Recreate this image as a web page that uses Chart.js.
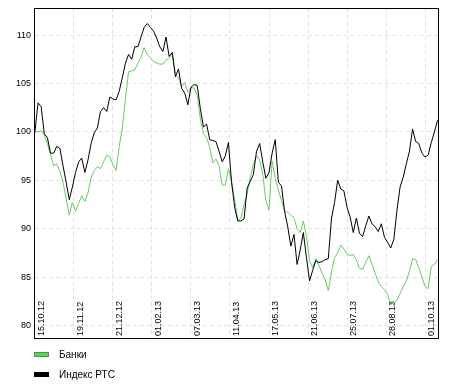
<!DOCTYPE html>
<html>
<head>
<meta charset="utf-8">
<script src="https://cdn.jsdelivr.net/npm/chart.js@4"></script>
<style>
  body { margin: 0; background: #fff; }
  #wrap { position: relative; width: 449px; height: 387px; }
  .lg { position: absolute; left: 34px; height: 12px; font: 10px "Liberation Sans", Arial, sans-serif; color: #000; line-height: 12px; }
  .lg .box { position: absolute; left: 0; top: 3px; width: 13px; height: 3px; }
  .lg .txt { position: absolute; left: 25px; top: 0; white-space: nowrap; }
</style>
</head>
<body>
<div id="wrap">
  <canvas id="c" width="449" height="387"></canvas>
  <div class="lg" style="top:349px"><span class="box" style="background:#66cc66;border:1px solid #3f9f3f"></span><span class="txt">Банки</span></div>
  <div class="lg" style="top:369px"><span class="box" style="background:#000;border:1px solid #000"></span><span class="txt">Индекс РТС</span></div>
</div>
<script>
// every value is one point per 2 trading days, starting 15.10.12
const DAY_STEP = 2;

const banks = [
  100.0, 100.0, 100.1, 99.7, 98.8, 97.6, 96.5, 96.7, 95.9, 94.8,
  93.1, 91.4, 92.7, 91.8, 92.6, 93.4, 92.8, 93.7, 95.3, 96.0,
  96.4, 96.2, 96.9, 97.6, 97.4, 96.6, 96.0, 98.5, 100.4, 103.4,
  106.2, 106.3, 106.4, 107.1, 107.7, 108.7, 108.0, 107.6, 107.3, 107.1,
  107.0, 107.0, 107.4, 107.6, 108.1, 106.0, 105.6, 104.7, 105.1, 104.1,
  104.6, 104.5, 103.8, 101.4, 99.8, 99.4, 98.4, 96.8, 97.2, 96.5,
  94.5, 94.5, 96.2, 94.9, 93.0, 90.8, 91.1, 92.5, 93.6, 95.3,
  96.7, 97.5, 97.1, 95.6, 92.9, 91.9, 97.0, 95.2, 94.0, 92.9,
  91.8, 91.7, 91.4, 91.1, 90.0, 89.6, 90.8, 89.2, 86.7, 86.0,
  86.9, 86.2, 85.4, 84.7, 83.6, 85.5, 87.0, 87.5, 88.3, 87.9,
  87.4, 87.2, 87.3, 86.8, 85.9, 85.8, 86.5, 87.2, 86.3, 85.4,
  84.5, 84.0, 83.7, 83.2, 82.2, 82.3, 82.6, 83.3, 84.0, 84.6,
  85.6, 86.9, 86.8, 86.0, 85.0, 84.0, 83.8, 86.1, 86.3, 86.8
];

const rts = [
  100.0, 103.0, 102.6, 99.8, 99.4, 97.8, 97.8, 98.5, 98.3, 96.5,
  94.8, 93.0, 94.3, 95.8, 96.9, 97.3, 95.8, 97.1, 98.8, 99.9,
  100.4, 102.1, 102.5, 102.1, 103.6, 103.4, 103.3, 104.2, 105.6, 107.1,
  108.0, 107.5, 108.8, 108.8, 109.8, 110.8, 111.2, 110.8, 110.4, 109.7,
  108.8, 108.3, 109.8, 107.8, 108.2, 105.7, 106.5, 104.5, 104.0, 102.8,
  104.6, 104.9, 104.8, 102.4, 100.5, 100.8, 99.2, 99.1, 99.0, 98.0,
  96.9, 97.5, 98.9, 94.8, 92.2, 90.8, 90.8, 91.0, 94.2, 94.9,
  95.6, 98.0, 98.8, 96.9, 95.2, 95.8, 97.8, 99.2, 94.8, 94.4,
  91.8, 90.2, 88.2, 89.4, 86.3, 87.8, 89.6, 87.0, 84.6, 85.7,
  86.7, 86.5, 86.6, 86.8, 86.9, 91.0, 92.7, 95.0, 94.1, 93.9,
  92.2, 91.2, 89.6, 91.1, 89.5, 89.2, 90.3, 91.3, 90.5, 90.2,
  89.7, 90.5, 89.1, 88.6, 88.0, 88.9, 91.9, 94.3, 95.3, 96.7,
  98.0, 100.3, 99.0, 98.8, 97.8, 97.4, 97.6, 98.9, 100.0, 101.2
];

// x ticks: trading day index -> date label
const tickDays = [0, 25, 50, 75, 100, 125, 150, 175, 200, 225, 250];
const tickLabels = ['15.10.12', '19.11.12', '21.12.12', '01.02.13', '07.03.13', '11.04.13',
                    '17.05.13', '21.06.13', '25.07.13', '28.08.13', '01.10.13'];
const yTicks = [80, 85, 90, 95, 100, 105, 110];

const FONT = '"Liberation Sans", Arial, sans-serif';
Chart.defaults.font.family = FONT;
Chart.defaults.font.size = 9;
Chart.defaults.color = '#000';

function pts(arr) { return arr.map((v, k) => ({ x: k * DAY_STEP, y: v })); }

// frame round the plot + date labels inside the plot
const framePlugin = {
  id: 'frame',
  beforeDatasetsDraw(chart) {
    const ctx = chart.ctx;
    const xs = chart.scales.x;
    const a = chart.chartArea;
    ctx.save();
    ctx.fillStyle = '#000';
    ctx.font = '9px ' + FONT;
    ctx.textAlign = 'left';
    ctx.textBaseline = 'middle';
    tickDays.forEach((d, i) => {
      const px = xs.getPixelForValue(d);
      ctx.save();
      ctx.translate(Math.round(px) + 6.5, a.bottom - 2);
      ctx.rotate(-Math.PI / 2);
      ctx.fillText(tickLabels[i], 0, 0);
      ctx.restore();
    });
    ctx.restore();
  },
  afterDraw(chart) {
    const ctx = chart.ctx;
    const a = chart.chartArea;
    ctx.save();
    ctx.strokeStyle = '#000';
    ctx.lineWidth = 1;
    ctx.strokeRect(Math.round(a.left) + 0.5, Math.round(a.top) + 0.5,
                   Math.round(a.right - a.left), Math.round(a.bottom - a.top));
    ctx.restore();
  }
};

const chart = new Chart(document.getElementById('c').getContext('2d'), {
  type: 'line',
  data: { datasets: [
    { label: 'Банки', data: pts(banks), borderColor: '#66cc66', borderWidth: 1, pointRadius: 0, tension: 0, order: 1 },
    { label: 'Индекс РТС', data: pts(rts), borderColor: '#000', borderWidth: 1, pointRadius: 0, tension: 0, order: 0 }
  ]},
  options: {
    responsive: false, animation: false, parsing: false,
    layout: { padding: { left: 0, top: 7, right: 11, bottom: 49 } },
    plugins: { legend: { display: false }, tooltip: { enabled: false } },
    scales: {
      x: {
        type: 'linear', min: -0.6, max: 258.3,
        afterBuildTicks: (s) => { s.ticks = tickDays.map(v => ({ value: v })); },
        afterFit: (s) => { s.height = 0; },
        ticks: { display: false },
        grid: { color: '#e2e2e2', drawTicks: false },
        border: { display: true, color: '#000', dash: [4, 3] }
      },
      y: {
        min: 78.7, max: 112.76,
        afterBuildTicks: (s) => { s.ticks = yTicks.map(v => ({ value: v })); },
        afterFit: (s) => { s.width = 34; },
        ticks: { padding: 3, color: '#000', font: { size: 9 } },
        grid: { color: '#e2e2e2', drawTicks: false },
        border: { display: true, color: '#000', dash: [4, 3] }
      }
    }
  },
  plugins: [framePlugin]
});
</script>
</body>
</html>
